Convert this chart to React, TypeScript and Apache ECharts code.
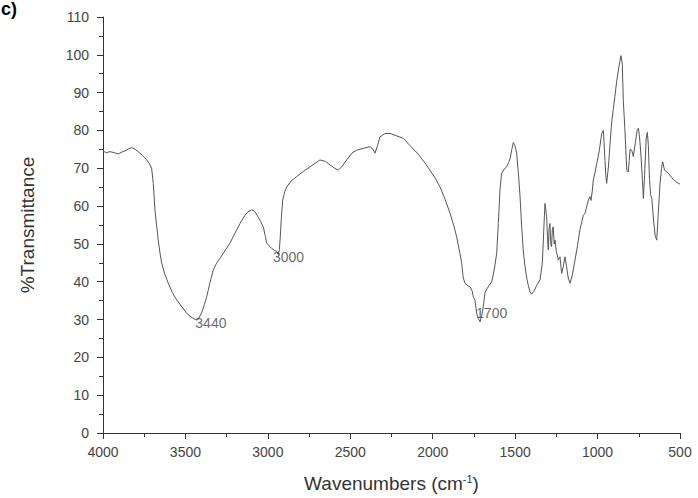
import React, { useEffect, useRef } from "react";
import * as echarts from "echarts";

const wavenumbers = [
  4000, 3980, 3958, 3930, 3907, 3885, 3867, 3845, 3826, 3805, 3786, 3760, 3735, 3718, 3705, 3695, 3685, 3675, 3665, 3655,
  3644, 3625, 3604, 3580, 3553, 3520, 3492, 3460, 3440, 3420, 3400, 3385, 3371, 3350, 3331, 3310, 3290, 3260, 3230, 3200,
  3169, 3140, 3120, 3098, 3080, 3060, 3045, 3028, 3015, 3007, 2990, 2977, 2960, 2946, 2937, 2930, 2926, 2918, 2910, 2898,
  2886, 2860, 2825, 2790, 2744, 2710, 2684, 2650, 2623, 2595, 2573, 2550, 2522, 2490, 2461, 2420, 2380, 2362, 2350, 2335,
  2320, 2290, 2259, 2220, 2178, 2138, 2100, 2077, 2040, 2017, 1985, 1956, 1925, 1895, 1870, 1855, 1835, 1824, 1815, 1804,
  1790, 1774, 1760, 1754, 1744, 1733, 1722, 1713, 1703, 1693, 1683, 1673, 1658, 1642, 1632, 1622, 1612, 1602, 1592, 1582,
  1562, 1551, 1540, 1531, 1520, 1511, 1501, 1491, 1481, 1471, 1461, 1451, 1440, 1430, 1420, 1410, 1400, 1385, 1370, 1349,
  1335, 1325, 1319, 1314, 1309, 1304, 1299, 1294, 1289, 1284, 1279, 1274, 1269, 1263, 1258, 1250, 1238, 1228, 1218, 1208,
  1198, 1188, 1178, 1167, 1152, 1137, 1122, 1107, 1087, 1076, 1056, 1046, 1040, 1032, 1026, 1015, 1005, 996, 985, 975,
  965, 961, 955, 950, 945, 935, 925, 915, 905, 895, 884, 870, 858, 850, 844, 834, 823, 814, 808, 803,
  793, 783, 770, 760, 752, 745, 736, 728, 722, 715, 705, 698, 692, 685, 678, 671, 660, 650, 641, 632,
  621, 612, 605, 594, 571, 540, 520, 500,
];

const transmittance = [
  74.6, 74.1, 74.4, 74.1, 73.8, 74.3, 74.6, 75.1, 75.5, 75.0, 74.4, 73.4, 72.2, 71.2, 70.0, 66.0, 59.0, 55.0, 51.0, 47.8,
  44.9, 42.0, 39.6, 37.2, 35.2, 33.3, 31.6, 30.5, 30.0, 30.2, 32.0, 34.0, 36.0, 40.0, 43.1, 45.0, 46.2, 48.2, 50.2, 52.8,
  55.4, 57.5, 58.5, 59.0, 58.6, 57.2, 56.0, 54.5, 52.0, 50.2, 49.4, 48.8, 48.3, 47.9, 47.2, 48.5, 51.0, 57.0, 61.6, 63.8,
  65.0, 66.6, 67.8, 69.0, 70.4, 71.4, 72.2, 71.8, 70.9, 70.0, 69.5, 70.5, 72.2, 74.0, 74.8, 75.3, 75.7, 75.0, 74.0, 76.0,
  78.3, 79.2, 79.2, 78.6, 77.9, 76.0, 74.3, 73.1, 71.0, 69.5, 67.4, 65.1, 61.8, 58.1, 54.5, 51.9, 47.5, 44.9, 41.0, 39.6,
  39.0, 38.7, 37.5, 36.0, 35.2, 31.6, 30.2, 29.4, 31.0, 33.4, 37.0, 38.0, 39.0, 40.0, 42.0, 44.5, 47.5, 55.4, 64.3, 68.7,
  70.0, 70.4, 71.5, 72.5, 75.0, 76.8, 76.0, 74.0, 69.0, 63.0, 55.0, 48.4, 44.0, 41.0, 39.0, 37.4, 36.7, 37.5, 39.0, 40.5,
  45.0, 55.0, 60.7, 59.0, 57.2, 52.0, 48.4, 54.0, 55.4, 50.0, 49.3, 54.0, 54.5, 50.0, 51.0, 48.0, 45.7, 46.6, 42.2, 44.0,
  46.6, 44.0, 41.0, 39.6, 42.0, 45.7, 49.5, 53.7, 57.5, 58.1, 61.6, 62.5, 61.5, 64.0, 66.9, 69.0, 71.3, 73.1, 76.0, 79.2,
  80.0, 77.0, 72.0, 68.0, 66.0, 70.0, 76.0, 82.0, 85.5, 89.0, 93.0, 97.0, 99.8, 97.5, 88.0, 80.0, 69.5, 69.0, 72.0, 75.0,
  74.8, 73.1, 77.0, 80.0, 80.6, 78.0, 73.0, 67.0, 62.0, 68.0, 78.0, 79.5, 76.0, 67.0, 63.0, 62.0, 56.0, 52.0, 51.0, 58.0,
  66.0, 70.0, 71.7, 69.5, 68.7, 67.0, 66.3, 65.8,
];

const annotationLabels = ["3440", "3000", "1700"];
const annotationWavenumbers = [3440, 2969, 1737];
const annotationValues = [29.1, 46.6, 31.7];

const xTickInterval = 500;
const yTickInterval = 10;

export default function App() {
  const ref = useRef<HTMLDivElement>(null);
  useEffect(() => {
    if (!ref.current) return;
    const chart = echarts.init(ref.current, null, { renderer: "svg" });
    const font = "Liberation Sans, Arial, sans-serif";
    const n = Math.min(wavenumbers.length, transmittance.length);
    const lineData = [] as number[][];
    for (let i = 0; i < n; i++) lineData.push([wavenumbers[i], transmittance[i]]);
    const annData = annotationLabels.map((l, i) => ({
      value: [annotationWavenumbers[i], annotationValues[i]],
      name: l,
    }));
    chart.setOption({
      animation: false,
      backgroundColor: "#ffffff",
      grid: { left: 103, right: 18, top: 17, bottom: 65, containLabel: false },
      xAxis: {
        type: "value",
        inverse: true,
        min: 500,
        max: 4000,
        interval: xTickInterval,
        name: "Wavenumbers (cm{sup|-1})",
        nameLocation: "middle",
        nameGap: 40,
        nameTextStyle: {
          fontFamily: font,
          fontSize: 19,
          color: "#333",
          rich: { sup: { fontSize: 11, verticalAlign: "top", padding: [0, 0, 10, 0], color: "#333", fontFamily: font } },
        },
        axisLine: { show: true, lineStyle: { color: "#333", width: 1 } },
        axisTick: { show: true, inside: false, length: 6, lineStyle: { color: "#333" } },
        minorTick: { show: true, splitNumber: 2, length: 4, lineStyle: { color: "#333" } },
        axisLabel: { fontFamily: font, fontSize: 14, color: "#444", margin: 12, formatter: (v: number) => String(v) },
        splitLine: { show: false },
      },
      yAxis: {
        type: "value",
        min: 0,
        max: 110,
        interval: yTickInterval,
        name: "%Transmittance",
        nameLocation: "middle",
        nameGap: 66,
        nameTextStyle: { fontFamily: font, fontSize: 19, color: "#333" },
        axisLine: { show: true, lineStyle: { color: "#333", width: 1 } },
        axisTick: { show: true, inside: false, length: 6, lineStyle: { color: "#333" } },
        minorTick: { show: true, splitNumber: 2, length: 4, lineStyle: { color: "#333" } },
        axisLabel: { fontFamily: font, fontSize: 14, color: "#444", margin: 14 },
        splitLine: { show: false },
      },
      graphic: [
        {
          type: "text",
          left: 1,
          top: 0,
          style: { text: "c)", font: "bold 18px Liberation Sans, Arial, sans-serif", fill: "#000" },
        },
      ],
      series: [
        {
          type: "line",
          data: lineData,
          showSymbol: false,
          symbol: "none",
          lineStyle: { color: "#555", width: 1 },
          z: 2,
        },
        {
          type: "scatter",
          data: annData,
          symbolSize: 0,
          itemStyle: { color: "rgba(0,0,0,0)" },
          label: {
            show: true,
            position: "right",
            distance: 0,
            formatter: (p: any) => p.name,
            fontFamily: font,
            fontSize: 14,
            color: "#444",
          },
          z: 3,
        },
      ],
    });
    return () => chart.dispose();
  }, []);
  return <div ref={ref} style={{ position: "absolute", left: 0, top: 0, width: 698, height: 498 }} />;
}
